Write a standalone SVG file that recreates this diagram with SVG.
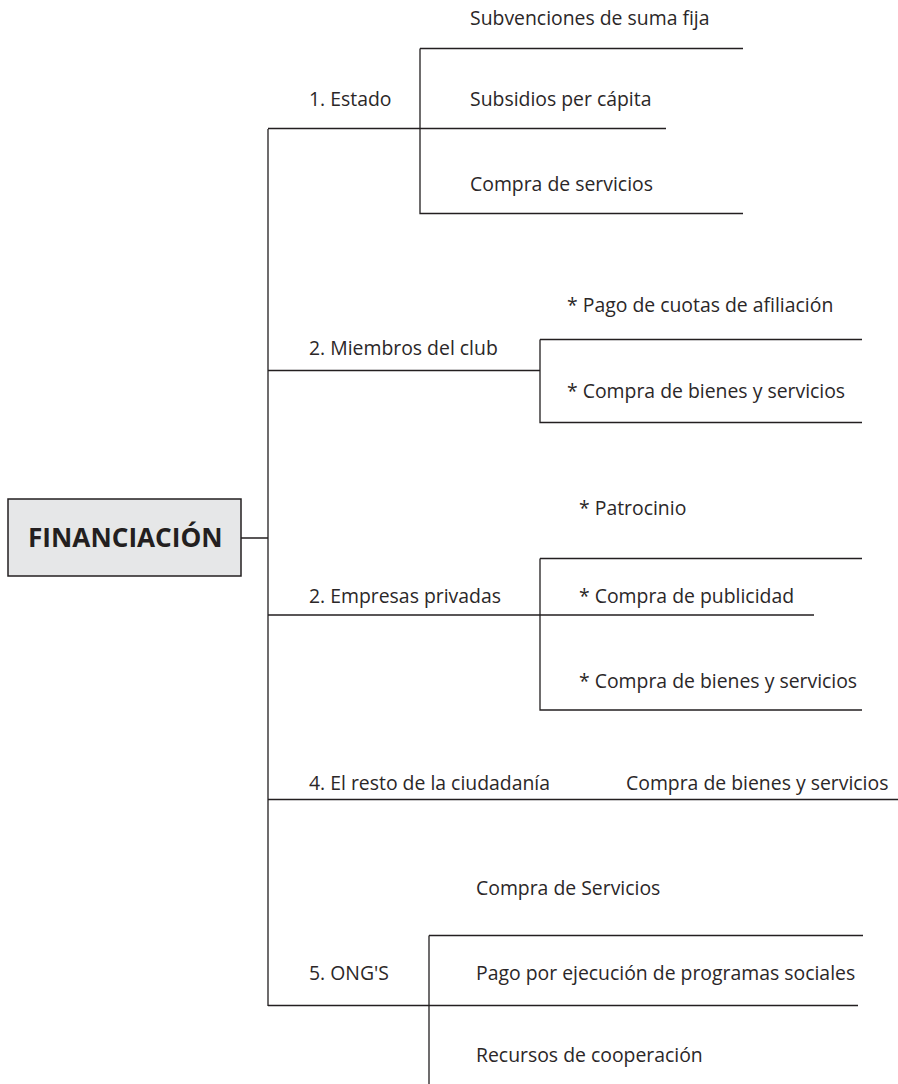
<svg xmlns="http://www.w3.org/2000/svg" width="898" height="1084" viewBox="0 0 898 1084">
<style>
.t{font-family:"Open Sans","Noto Sans","Liberation Sans",sans-serif;font-size:19.4px;fill:#2b2728}
.b{font-family:"Open Sans","Noto Sans","Liberation Sans",sans-serif;font-size:26.2px;font-weight:bold;fill:#231f20}
.l{stroke:#231f20;stroke-width:1.3;fill:none}
</style>
<rect width="898" height="1084" fill="#ffffff"/>
<g id="connectors">
<path class="l" d="M241 538H268M268 129V1006"/>
<path class="l" d="M268 128.5H666M420 48.5H743M420 48.5V213.5H743"/>
<path class="l" d="M268 370.5H540M540 339.5H862M540 339.5V422.5H862"/>
<path class="l" d="M268 615H814M540 558.5H862M540 558.5V710H862"/>
<path class="l" d="M268 799.5H898"/>
<path class="l" d="M268 1005.5H858M429 935.5H863M429 935.5V1084"/>
</g>
<g id="root">
<rect x="8" y="499" width="233" height="77" fill="#e6e7e8" stroke="#231f20" stroke-width="1.5"/>
<text class="b" x="28" y="547">FINANCIACIÓN</text>
</g>
<g id="estado">
<text class="t" x="309" y="106">1. Estado</text>
<text class="t" x="470" y="25">Subvenciones de suma fija</text>
<text class="t" x="470" y="106">Subsidios per cápita</text>
<text class="t" x="470" y="191">Compra de servicios</text>
</g>
<g id="miembros">
<text class="t" x="309" y="355">2. Miembros del club</text>
<text class="t" x="567" y="312">* Pago de cuotas de afiliación</text>
<text class="t" x="567" y="398">* Compra de bienes y servicios</text>
</g>
<g id="empresas">
<text class="t" x="309" y="603">2. Empresas privadas</text>
<text class="t" x="579" y="515">* Patrocinio</text>
<text class="t" x="579" y="603">* Compra de publicidad</text>
<text class="t" x="579" y="688">* Compra de bienes y servicios</text>
</g>
<g id="ciudadania">
<text class="t" x="309" y="790">4. El resto de la ciudadanía</text>
<text class="t" x="626" y="790">Compra de bienes y servicios</text>
</g>
<g id="ong">
<text class="t" x="309" y="980">5. ONG'S</text>
<text class="t" x="476" y="895">Compra de Servicios</text>
<text class="t" x="476" y="980">Pago por ejecución de programas sociales</text>
<text class="t" x="476" y="1062">Recursos de cooperación</text>
</g>
</svg>
